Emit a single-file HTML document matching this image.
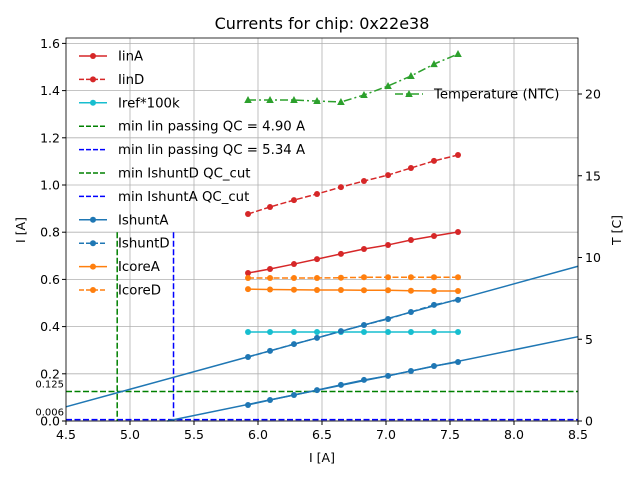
<!DOCTYPE html>
<html><head><meta charset="utf-8"><style>
body{margin:0;background:#fff;font-family:"Liberation Sans","DejaVu Sans",sans-serif}
svg text{font-family:"DejaVu Sans","Liberation Sans",sans-serif}
</style></head><body>
<svg id="chart" width="640" height="480" xmlns="http://www.w3.org/2000/svg">
<rect width="640" height="480" fill="#fff"/>
<text x="322" y="29" font-size="16" text-anchor="middle">Currents for chip: 0x22e38</text>
<g id="grid"></g><g id="marks"></g><g id="axes"></g><g id="legend"></g>
</svg>
<script>
const xVals=[5.922,6.094,6.281,6.461,6.648,6.828,7.016,7.195,7.375,7.5625];
const iinA=[0.627,0.644,0.665,0.686,0.708,0.729,0.746,0.767,0.784,0.801];
const iinD=[0.877,0.907,0.936,0.962,0.991,1.017,1.042,1.072,1.102,1.127];
const irefVals=[0.377,0.377,0.377,0.377,0.377,0.377,0.377,0.377,0.377,0.377];
const ishuntA=[0.068,0.089,0.110,0.131,0.153,0.174,0.191,0.212,0.233,0.250];
const ishuntD=[0.271,0.297,0.326,0.352,0.381,0.407,0.432,0.462,0.492,0.513];
const coreA=[0.559,0.557,0.556,0.555,0.555,0.554,0.554,0.552,0.551,0.551];
const coreD=[0.606,0.606,0.606,0.606,0.607,0.609,0.609,0.609,0.609,0.609];
const tempVals=[19.63,19.63,19.63,19.57,19.51,19.94,20.49,21.1,21.83,22.45];
const minIinPass=[4.90,5.34];
const qcCuts=[0.125,0.006];
const xTicks=[4.5,5.0,5.5,6.0,6.5,7.0,7.5,8.0,8.5];
const yTicks=[0.0,0.2,0.4,0.6,0.8,1.0,1.2,1.4,1.6];
const tTicks=[0,5,10,15,20];
const L=66,R=578,T=38,B=421;
const X=v=>L+(v-4.5)*(R-L)/4;
const Y=v=>B-v*236;
const YT=v=>B-v*16.35;
const NS="http://www.w3.org/2000/svg";
function mk(tag,attrs,parent){const e=document.createElementNS(NS,tag);for(const k in attrs)e.setAttribute(k,attrs[k]);document.getElementById(parent).appendChild(e);return e;}
xTicks.forEach(t=>{const l=mk('line',{x1:X(t),x2:X(t),y1:T,y2:B,stroke:'#b0b0b0','stroke-width':0.8},'grid');

});
yTicks.forEach(t=>{const l=mk('line',{x1:L,x2:R,y1:Y(t),y2:Y(t),stroke:'#b0b0b0','stroke-width':0.8},'grid');

});
const cols=['green','blue'];
qcCuts.forEach((v,i)=>{const l=mk('line',{x1:L,x2:R,y1:Y(v),y2:Y(v),stroke:cols[i],'stroke-width':1.5,'stroke-dasharray':'6,2.5'},'marks');


const t=mk('text',{x:L-2,y:Y(v)-4,'font-size':10,'text-anchor':'end'},'marks');t.textContent=v.toFixed(3);

});
minIinPass.forEach((v,i)=>{const l=mk('line',{x1:X(v),x2:X(v),y1:Y(0.8),y2:B,stroke:cols[i],'stroke-width':1.5,'stroke-dasharray':'6,2.5'},'marks');

});
function fit(ys){const n=xVals.length;let mx=0,my=0;for(let i=0;i<n;i++){mx+=xVals[i];my+=ys[i];}mx/=n;my/=n;let sxy=0,sxx=0;for(let i=0;i<n;i++){sxy+=(xVals[i]-mx)*(ys[i]-my);sxx+=(xVals[i]-mx)**2;}const m=sxy/sxx;return [m,my-m*mx];}
[ishuntA,ishuntD].forEach(ys=>{const [m,b]=fit(ys);let x0=4.5;if(m*x0+b<0)x0=-b/m;
const l=mk('line',{x1:X(x0),y1:Y(m*x0+b),x2:X(8.5),y2:Y(m*8.5+b),stroke:'#1f77b4','stroke-width':1.5},'marks');

});
function series(ys,col,dash,marker,name,yf){yf=yf||Y;
const p=mk('polyline',{points:xVals.map((x,i)=>X(x)+','+yf(ys[i])).join(' '),fill:'none',stroke:col,'stroke-width':1.5,'stroke-dasharray':dash},'marks');


xVals.forEach((x,i)=>{let m;if(marker==='tri'){const cx=X(x),cy=yf(ys[i]);m=mk('polygon',{points:`${cx},${cy-4} ${cx-3.8},${cy+3} ${cx+3.8},${cy+3}`,fill:col},'marks');}
else m=mk('circle',{cx:X(x),cy:yf(ys[i]),r:3,fill:col},'marks');

});}
series(iinA,'#d62728','none','o','iina');
series(iinD,'#d62728','6,2.5','o','iind');
series(irefVals,'#17becf','none','o','iref');
series(ishuntA,'#1f77b4','none','o','ishunta');
series(ishuntD,'#1f77b4','6,2.5','o','ishuntd');
series(coreA,'#ff7f0e','none','o','corea');
series(coreD,'#ff7f0e','6,2.5','o','cored');
series(tempVals,'#2ca02c','8,3,2,3','tri','temperature',YT);
mk('rect',{x:L,y:T,width:R-L,height:B-T,fill:'none',stroke:'#000','stroke-width':0.8},'axes');
xTicks.forEach(t=>{mk('line',{x1:X(t),x2:X(t),y1:B,y2:B+4,stroke:'#000'},'axes');const e=mk('text',{x:X(t),y:B+18,'font-size':12.5,'text-anchor':'middle'},'axes');e.textContent=t.toFixed(1);

});
yTicks.forEach(t=>{mk('line',{x1:L-4,x2:L,y1:Y(t),y2:Y(t),stroke:'#000'},'axes');const e=mk('text',{x:L-6,y:Y(t)+4.5,'font-size':12.5,'text-anchor':'end'},'axes');e.textContent=t.toFixed(1);

});
tTicks.forEach(t=>{mk('line',{x1:R,x2:R+4,y1:YT(t),y2:YT(t),stroke:'#000'},'axes');const e=mk('text',{x:R+7,y:YT(t)+4.5,'font-size':12.5},'axes');e.textContent=t;

});
let e=mk('text',{x:322,y:462,'font-size':12.5,'text-anchor':'middle'},'axes');e.textContent='I [A]';


e=mk('text',{x:0,y:0,'font-size':12.5,'text-anchor':'middle',transform:'translate(25,230) rotate(-90)'},'axes');e.textContent='I [A]';


e=mk('text',{x:0,y:0,'font-size':12.5,'text-anchor':'middle',transform:'translate(621,230) rotate(-90)'},'axes');e.textContent='T [C]';


const legs=[['IinA','#d62728','none',1],['IinD','#d62728','5,2',1],['Iref*100k','#17becf','none',1],['min Iin passing QC = 4.90 A','green','5,2',0],['min Iin passing QC = 5.34 A','blue','5,2',0],['min IshuntD QC_cut','green','5,2',0],['min IshuntA QC_cut','blue','5,2',0],['IshuntA','#1f77b4','none',1],['IshuntD','#1f77b4','5,2',1],['IcoreA','#ff7f0e','none',1],['IcoreD','#ff7f0e','5,2',1]];
legs.forEach((l,i)=>{const y=56+i*23.4;mk('line',{x1:79,x2:107,y1:y,y2:y,stroke:l[1],'stroke-width':1.5,'stroke-dasharray':l[2]},'legend');
if(l[3])mk('circle',{cx:93,cy:y,r:3,fill:l[1]},'legend');
const t=mk('text',{x:118,y:y+4.5,'font-size':13.3},'legend');t.textContent=l[0];

});
mk('line',{x1:395,x2:423,y1:94,y2:94,stroke:'#2ca02c','stroke-width':1.5,'stroke-dasharray':'8,3,2,3'},'legend');
mk('polygon',{points:'409,90 405.2,97 412.8,97',fill:'#2ca02c'},'legend');
e=mk('text',{x:434,y:98.5,'font-size':13.3},'legend');e.textContent='Temperature (NTC)';


</script>
</body></html>
